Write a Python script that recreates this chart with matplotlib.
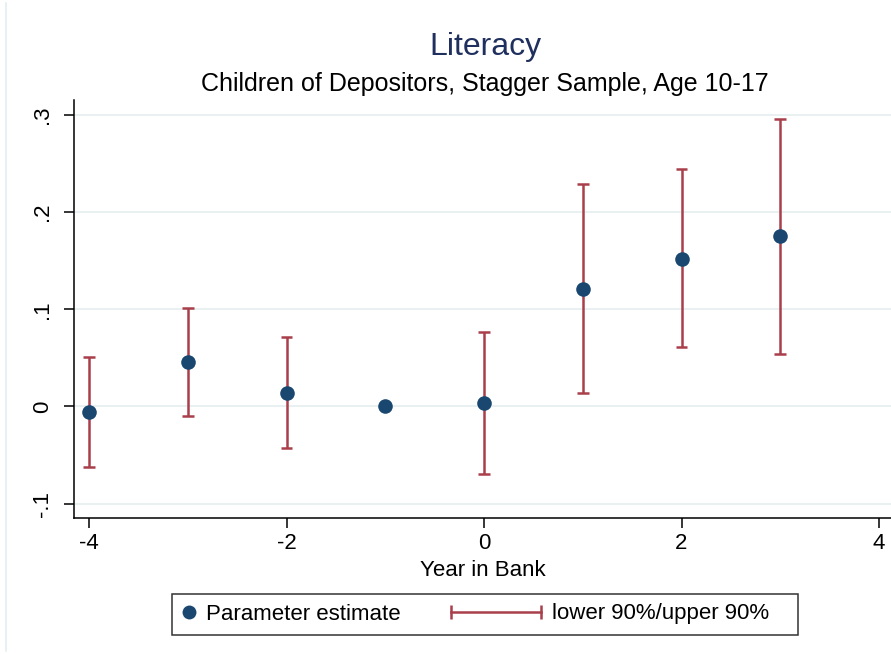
#!/usr/bin/env python3

import matplotlib
matplotlib.use('Agg')
import matplotlib.pyplot as plt
from matplotlib.lines import Line2D
from matplotlib.legend_handler import HandlerLine2D

plt.rcParams['font.family'] = ['Liberation Sans', 'DejaVu Sans']

# event-study estimates
years = [-4, -3, -2, -1, 0, 1, 2, 3]
estimate = [-0.0055, 0.046, 0.014, 0.0, 0.004, 0.121, 0.152, 0.175]
lower90 = [-0.062, -0.0095, -0.043, None, -0.069, 0.0135, 0.061, 0.054]
upper90 = [0.051, 0.1015, 0.071, None, 0.077, 0.229, 0.244, 0.295]

yticks = [-0.1, 0, 0.1, 0.2, 0.3]
ytick_labels = ['-.1', '0', '.1', '.2', '.3']
xticks = [-4, -2, 0, 2, 4]

navy = '#1a476f'
maroon = '#a83f4a'
grid = '#e6eff1'


class SizedHandler(HandlerLine2D):
    # legend handle whose box width is given in points
    def __init__(self, width, **kw):
        super().__init__(**kw)
        self.width = width

    def legend_artist(self, legend, orig_handle, fontsize, handlebox):
        handlebox.width = self.width
        return super().legend_artist(legend, orig_handle, fontsize, handlebox)


fig = plt.figure(figsize=(8.91, 6.54), dpi=100)
ax = fig.add_axes([74 / 891, 1 - 518 / 654, 1 - 74 / 891, (518 - 100) / 654])

for y in yticks:
    ax.axhline(y, color=grid, lw=1.3, zorder=0)

ci_x = [x for x, lo in zip(years, lower90) if lo is not None]
ci_lo = [lo for lo in lower90 if lo is not None]
ci_hi = [hi for hi in upper90 if hi is not None]
ax.vlines(ci_x, ci_lo, ci_hi, color=maroon, lw=1.8, zorder=2)
ax.hlines(ci_lo + ci_hi, [x - 0.06 for x in ci_x * 2], [x + 0.06 for x in ci_x * 2],
          color=maroon, lw=1.8, zorder=2)

ax.plot(years, estimate, 'o', color=navy, ms=10.5, mew=0, zorder=3)

ax.set_xlim(-4.152, 4.1215)
ax.set_ylim(-0.1146, 0.315)
ax.set_xticks(xticks)
ax.set_xticklabels([str(t) for t in xticks], fontsize=16)
ax.set_yticks(yticks)
ax.set_yticklabels(ytick_labels, fontsize=16, rotation=90, va='center')
ax.tick_params(direction='out', length=7, width=1.1, colors='black')
ax.tick_params(axis='x', pad=4)
ax.tick_params(axis='y', pad=8)
for side in ['top', 'right']:
    ax.spines[side].set_visible(False)
for side in ['left', 'bottom']:
    ax.spines[side].set_linewidth(1.1)

ax.set_xlabel('Year in Bank', fontsize=16, labelpad=4)

fig.text(485 / 891, 1 - 47 / 654, 'Literacy', ha='center', va='center',
         fontsize=23, color='#1f2f5e')
fig.text(485 / 891, 1 - 84 / 654, 'Children of Depositors, Stagger Sample, Age 10-17',
         ha='center', va='center', fontsize=18)

h_est = Line2D([], [], ls='none', marker='o', color=navy, ms=10, mew=0)
h_ci = Line2D([], [], color=maroon, lw=1.8, marker='|', ms=10, mew=1.8)
leg = fig.legend([h_est, h_ci], ['Parameter estimate', 'lower 90%/upper 90%   '],
                 loc='center', bbox_to_anchor=(485 / 891, 1 - 614 / 654), ncol=2,
                 fontsize=16, frameon=True, fancybox=False, edgecolor='black',
                 handletextpad=0.5, columnspacing=2.25, borderpad=0.45,
                 handler_map={h_est: SizedHandler(9, numpoints=1),
                              h_ci: SizedHandler(65, numpoints=2, marker_pad=0)})
leg.get_frame().set_linewidth(1.1)

fig.add_artist(Line2D([6 / 891, 6 / 891], [0.005, 0.995], color='#e3eef0', lw=1.2))

fig.savefig('out.png', dpi=100)
